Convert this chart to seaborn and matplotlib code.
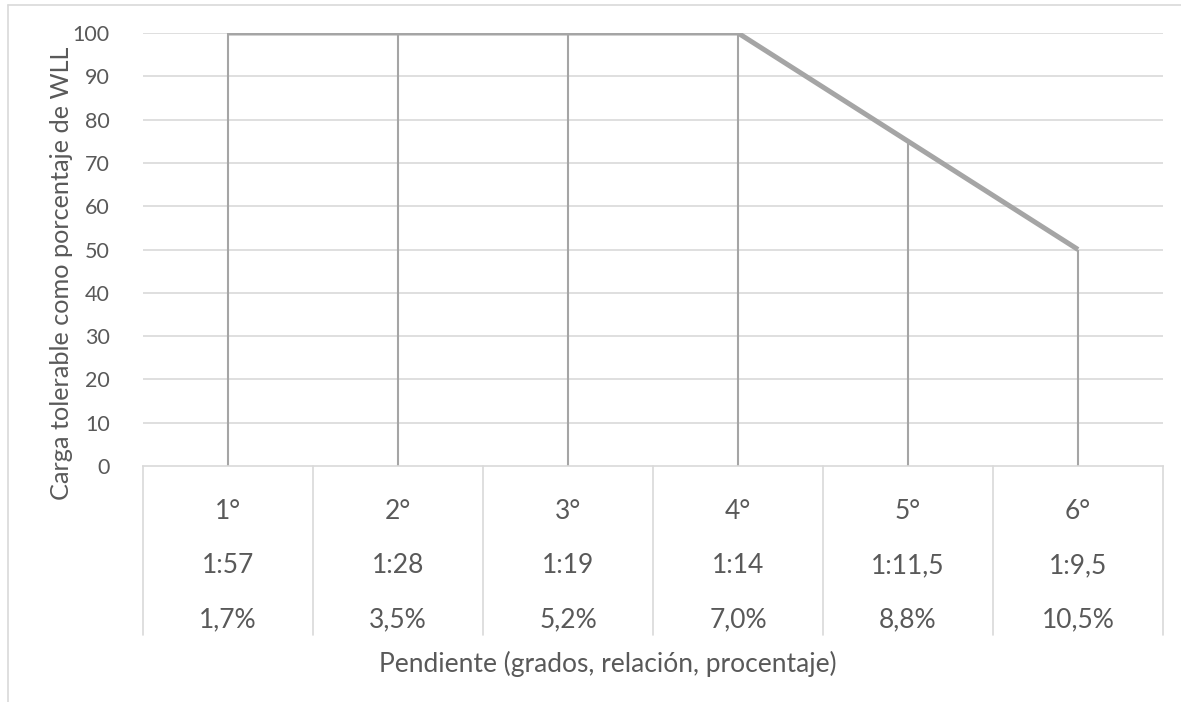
import matplotlib
matplotlib.use("Agg")
import matplotlib.pyplot as plt
import matplotlib.transforms as mtransforms
from matplotlib.lines import Line2D
import seaborn as sns
import pandas as pd

# Slope categories and allowed load
grados = ["1°", "2°", "3°", "4°", "5°", "6°"]
relacion = ["1:57", "1:28", "1:19", "1:14", "1:11,5", "1:9,5"]
porcentaje = ["1,7%", "3,5%", "5,2%", "7,0%", "8,8%", "10,5%"]
carga = [100, 100, 100, 100, 75, 50]
y_ticks = [0, 10, 20, 30, 40, 50, 60, 70, 80, 90, 100]

sns.set_theme(style="white")
plt.rcParams["font.family"] = ["Lato", "DejaVu Sans"]

TEXT = "#595959"
GRID = "#D9D9D9"
LINE = "#A5A5A5"

W, H = 1181, 702
fig = plt.figure(figsize=(W / 100, H / 100), dpi=100)
ax = fig.add_axes([143 / W, 1 - 466 / H, (1163 - 143) / W, (466 - 33) / H])

df = pd.DataFrame({"pos": range(len(carga)), "carga": carga})

# drop lines from each point to the axis
ax.vlines(df["pos"], 0, df["carga"], color=LINE, lw=1.5, zorder=2)
sns.lineplot(data=df, x="pos", y="carga", ax=ax, color=LINE, lw=3.6,
             zorder=3, solid_capstyle="butt")

ax.set_xlim(-0.5, len(carga) - 0.5)
ax.set_ylim(0, 100)
ax.set_yticks(y_ticks)
ax.set_yticklabels([str(v) for v in y_ticks], color=TEXT, fontsize=15.5)
ax.tick_params(axis="y", length=0, pad=24)

for v in y_ticks[1:]:
    ax.axhline(v, color=GRID, lw=1.2, zorder=1)

for s in ["top", "right", "left"]:
    ax.spines[s].set_visible(False)
ax.spines["bottom"].set_color(GRID)
ax.spines["bottom"].set_linewidth(1.2)

# category table below the axis
ax.set_xticks(range(len(carga)))
ax.set_xticklabels([f"{g}\n{r}\n{p}" for g, r, p in zip(grados, relacion, porcentaje)],
                   color=TEXT, fontsize=19, linespacing=2.45)
ax.tick_params(axis="x", length=0, pad=24)

trans = mtransforms.blended_transform_factory(ax.transData, ax.transAxes)
table_depth = (635 - 466) / (466 - 33)
for b in [i - 0.5 for i in range(len(carga) + 1)]:
    ax.add_line(Line2D([b, b], [0, -table_depth], transform=trans, color=GRID,
                       lw=1.2, clip_on=False))

ax.set_xlabel("Pendiente (grados, relación, procentaje)", color=TEXT, fontsize=19)
ax.xaxis.set_label_coords((607.5 - 143) / (1163 - 143), -(651 - 466) / (466 - 33))
ax.set_ylabel("Carga tolerable como porcentaje de WLL", color=TEXT, fontsize=18.2)
ax.yaxis.set_label_coords(-(143 - 73) / (1163 - 143), (466 - 273.5) / (466 - 33))

# chart area border
fig.add_artist(Line2D([8 / W, 1], [1 - 5 / H, 1 - 5 / H], color=GRID, lw=1.2))
fig.add_artist(Line2D([8 / W, 8 / W], [0, 1 - 5 / H], color=GRID, lw=1.2))

fig.savefig("out.png", dpi=100, facecolor="white")
